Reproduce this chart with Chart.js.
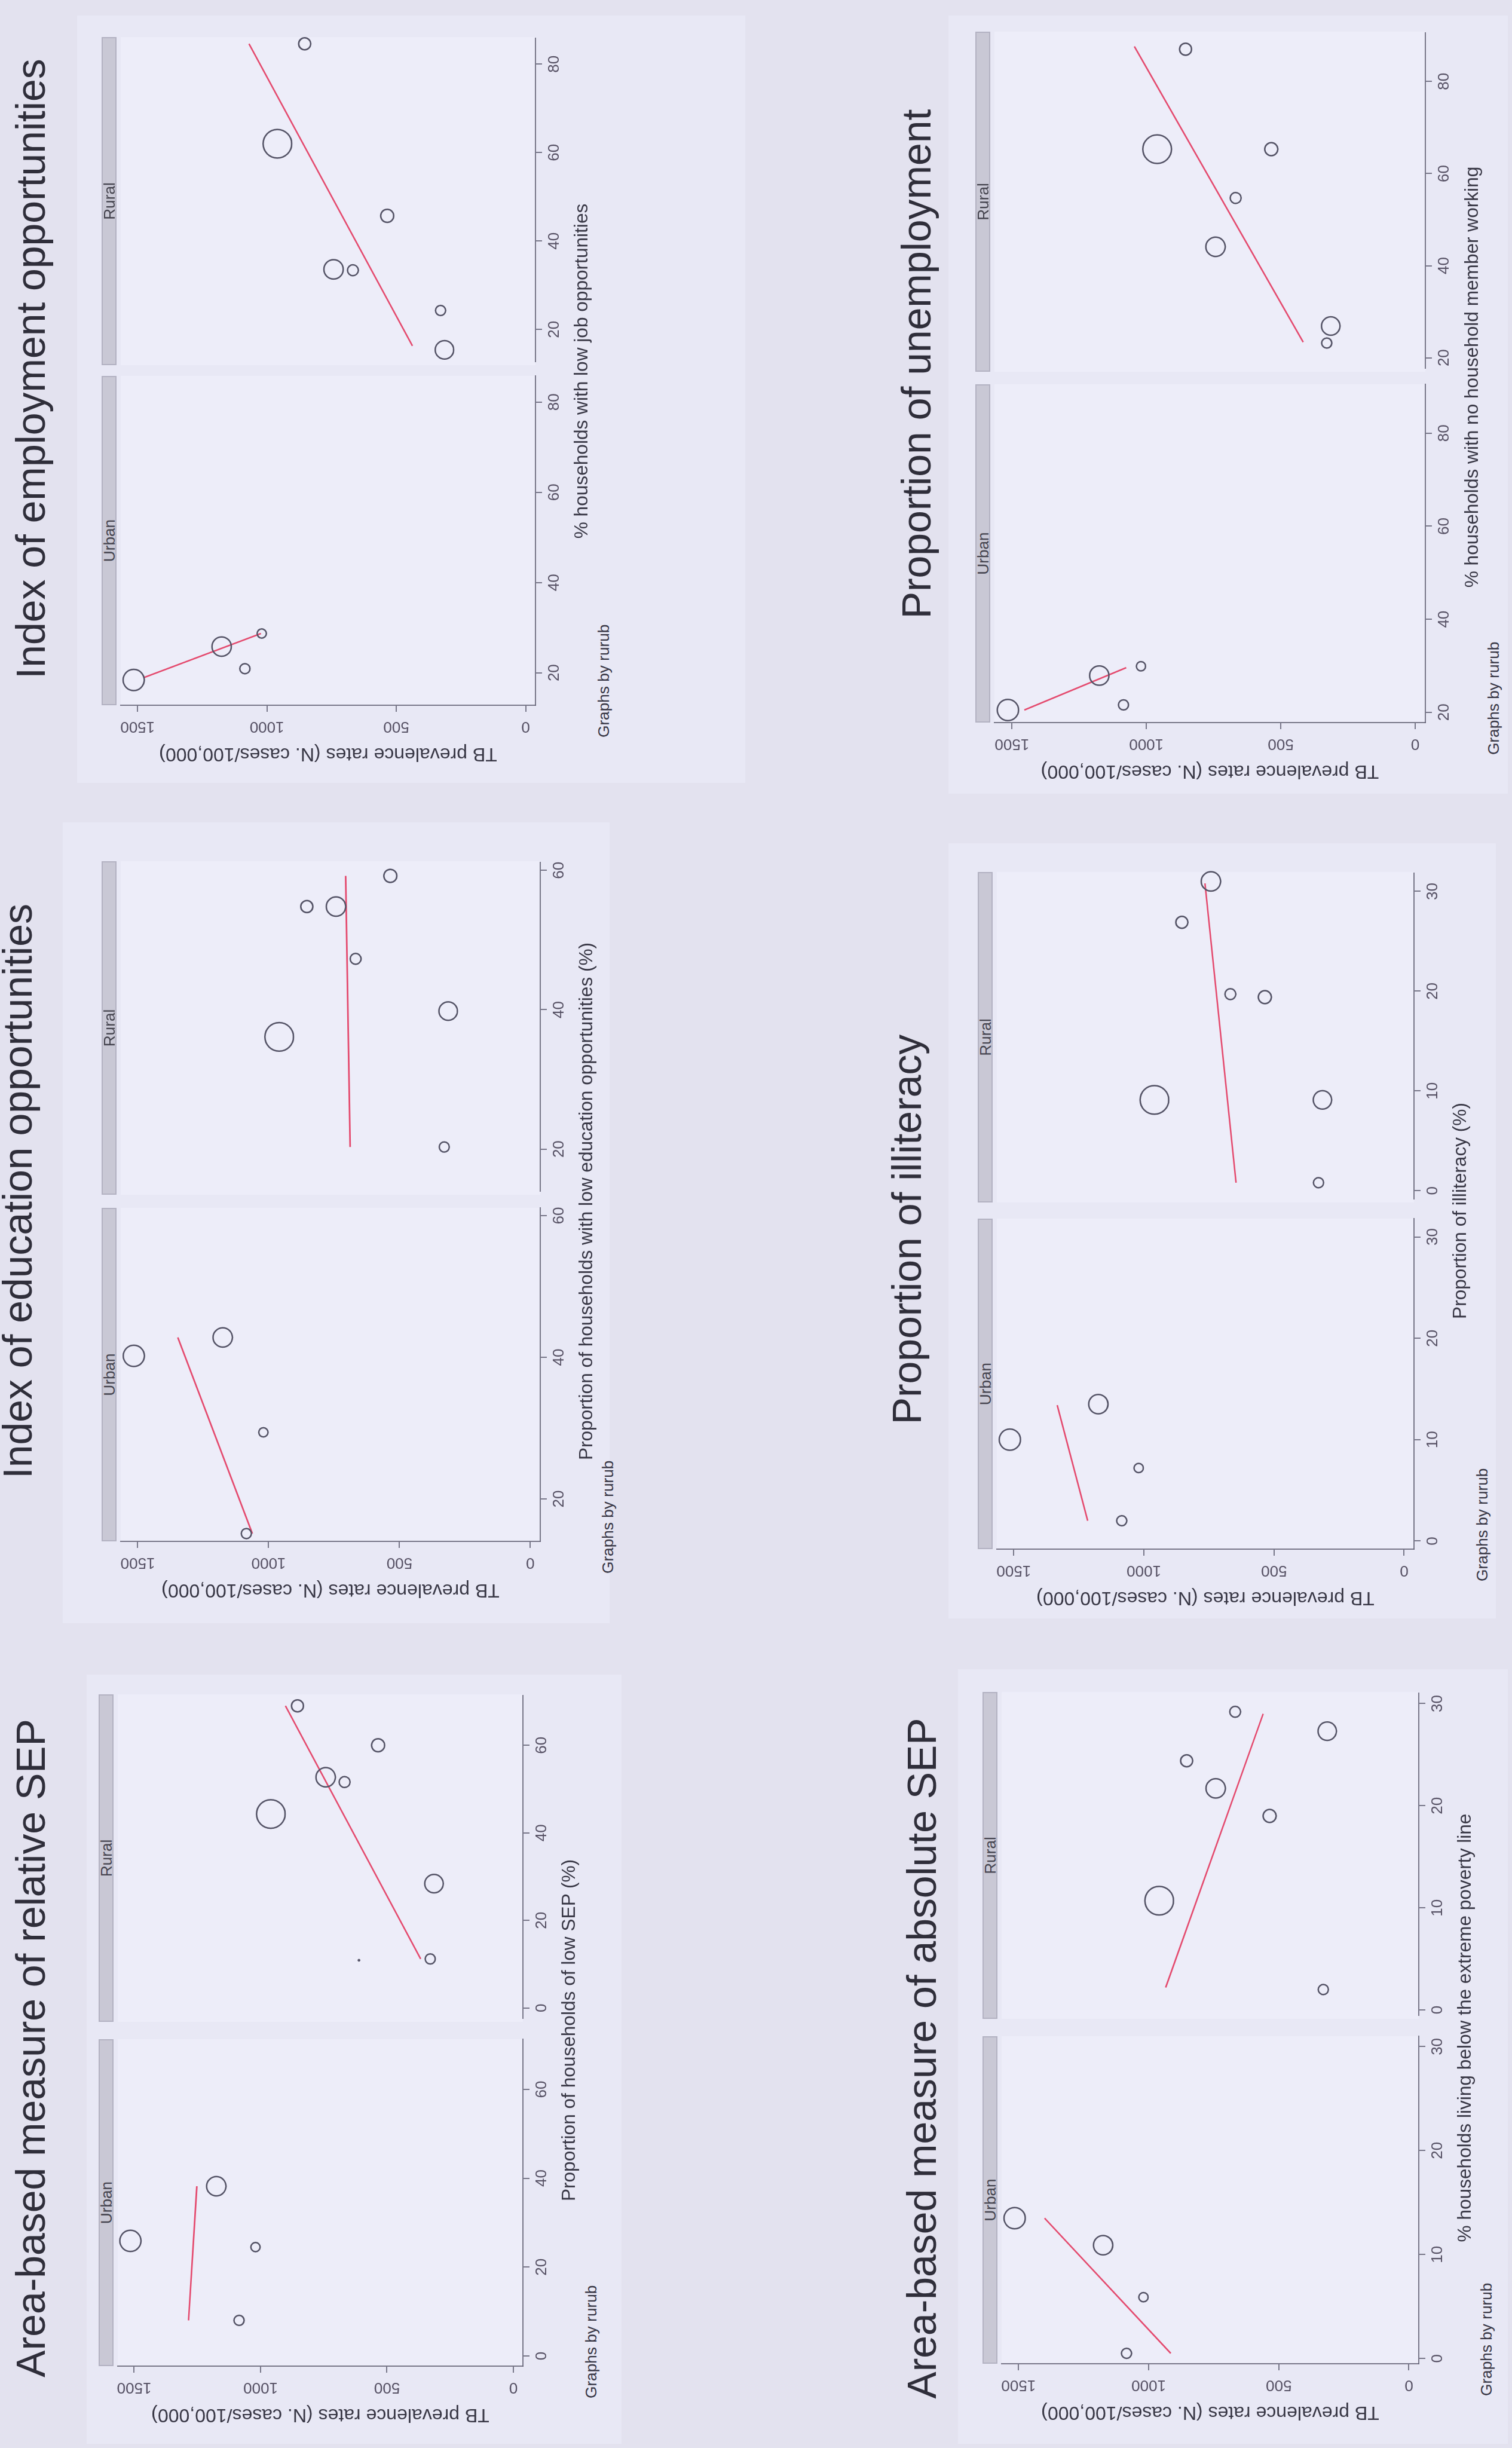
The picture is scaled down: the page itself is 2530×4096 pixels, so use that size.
<!DOCTYPE html>
<html>
<head>
<meta charset="utf-8">
<title>TB prevalence by area-level deprivation indicators</title>
<script src="https://cdn.jsdelivr.net/npm/chart.js@4.4.1/dist/chart.umd.min.js"></script>
<style>
  html, body { margin: 0; padding: 0; background: #e3e2ef; overflow: hidden; }
  body { width: 2530px; height: 4096px; position: relative; }
  /* The slide is laid out in landscape and turned a quarter turn counter-clockwise. */
  #sheet {
    position: absolute; left: 0; top: 0; width: 4096px; height: 2530px;
    transform-origin: 0 0; transform: translate(0, 4096px) rotate(-90deg);
    background: #e3e2ef; overflow: hidden;
  }
  .box { position: absolute; box-sizing: border-box; }
  .txt { position: absolute; white-space: nowrap; line-height: 1;
         font-family: "Liberation Sans", Arial, Helvetica, sans-serif; }
  canvas { position: absolute; }
</style>
</head>
<body>
<div id="sheet"></div>
<script>
// ---------------- data ----------------
const groups = ['Urban', 'Rural'];
const tbTicks = [0, 500, 1000, 1500];
const tbRange = [-38, 1565];

// TB prevalence per area (same areas in every panel)
const urbanTB = [1515, 1175, 1020, 1085];
const ruralTB = [963, 857, 745, 670, 537, 315, 330];
// analytic weights (marker area)
const urbanWeight = [5.3, 4.4, 1.0, 1.2];
const ruralWeight = [9.6, 1.7, 4.4, 1.4, 2.0, 4.0, 1.2];

// Area-based measure of relative SEP
const relTicks = [0, 20, 40, 60];
const relRange = [-2.3, 71.3];
const relUrbanX = [25.9, 38.2, 24.5, 8.0];
const relRuralX = [44.3, 69.0, 52.7, 51.6, 60.0, 28.4, 11.2];
const relExtraX = [10.9];
const relExtraTB = [613];
const relExtraWeight = [0.06];
const relUrbanFitX = [8.0, 38.2];
const relUrbanFitTB = [1285, 1252];
const relRuralFitX = [11.2, 69.0];
const relRuralFitTB = [368, 905];

// Index of education opportunities
const eduTicks = [20, 40, 60];
const eduRange = [14.0, 61.1];
const eduUrbanX = [40.2, 42.8, 29.4, 15.1];
const eduRuralX = [36.1, 54.8, 54.8, 47.3, 59.2, 39.8, 20.3];
const eduUrbanFitX = [15.1, 42.8];
const eduUrbanFitTB = [1062, 1347];
const eduRuralFitX = [20.3, 59.2];
const eduRuralFitTB = [691, 708];

// Index of employment opportunities
const empTicks = [20, 40, 60, 80];
const empRange = [12.8, 85.8];
const empUrbanX = [18.4, 25.8, 28.7, 20.9];
const empRuralX = [62.0, 84.6, 33.6, 33.4, 45.7, 15.4, 24.3];
const empUrbanFitX = [18.9, 28.7];
const empUrbanFitTB = [1477, 1023];
const empRuralFitX = [16.3, 84.6];
const empRuralFitTB = [439, 1073];

// Area-based measure of absolute SEP
const absTicks = [0, 10, 20, 30];
const absRange = [-0.5, 31.0];
const absUrbanX = [13.5, 10.9, 5.9, 0.5];
const absRuralX = [10.7, 24.4, 21.7, 29.2, 19.0, 27.3, 2.0];
const absUrbanFitX = [0.5, 13.5];
const absUrbanFitTB = [915, 1400];
const absRuralFitX = [2.2, 29.0];
const absRuralFitTB = [938, 562];

// Proportion of illiteracy
const illTicks = [0, 10, 20, 30];
const illRange = [-0.8, 31.8];
const illUrbanX = [10.0, 13.5, 7.2, 2.0];
const illRuralX = [9.1, 26.9, 31.0, 19.7, 19.4, 9.1, 0.8];
const illUrbanFitX = [2.0, 13.4];
const illUrbanFitTB = [1216, 1333];
const illRuralFitX = [0.8, 30.8];
const illRuralFitTB = [648, 768];

// Proportion of unemployment
const uneTicks = [20, 40, 60, 80];
const uneRange = [17.8, 90.5];
const uneUrbanX = [20.5, 27.9, 29.9, 21.6];
const uneRuralX = [65.3, 87.0, 44.1, 54.7, 65.3, 26.9, 23.2];
const uneUrbanFitX = [20.5, 29.6];
const uneUrbanFitTB = [1454, 1075];
const uneRuralFitX = [23.4, 87.6];
const uneRuralFitTB = [418, 1048];

const tbTitle = 'TB prevalence rates (N. cases/100,000)';
const byNote = 'Graphs by rurub';

// ---------------- layout ----------------
// Positions are given on the upright page (X across, Y down, 3281 x 5311 units)
// and mapped onto the landscape sheet that is rotated into place.
const PAGE_LONG = 5311;
const K = 4096 / PAGE_LONG;
const lx = Y => (PAGE_LONG - Y) * K;   // sheet x from page Y
const ly = X => X * K;                 // sheet y from page X

const FONT = '"Liberation Sans", Arial, Helvetica, sans-serif';
const COL = {
  region: '#e8e8f5', plot: '#ededf9', strip: '#c9c8d5', stripEdge: '#b3b2c2',
  axis: 'rgba(100,99,118,0.85)', tick: '#575265', text: '#383745',
  marker: '#545366', fit: '#e44a6e'
};

const panels = [
  { title: 'Area-based measure of relative SEP', xTitle: 'Proportion of households of low SEP (%)',
    ticks: relTicks, range: relRange, urbanX: relUrbanX, ruralX: relRuralX,
    urbanFit: [relUrbanFitX, relUrbanFitTB], ruralFit: [relRuralFitX, relRuralFitTB],
    extra: { x: relExtraX, tb: relExtraTB, w: relExtraWeight },
    ax0: 256, ax1: 1135, rural: [3676, 4386], urban: [4424, 5133],
    titleBase: 98, titleMid: 4443, region: [188, 3633, 1349, 5302] },
  { title: 'Index of education opportunities', xTitle: 'Proportion of households with low education opportunities (%)',
    ticks: eduTicks, range: eduRange, urbanX: eduUrbanX, ruralX: eduRuralX,
    urbanFit: [eduUrbanFitX, eduUrbanFitTB], ruralFit: [eduRuralFitX, eduRuralFitTB],
    ax0: 262, ax1: 1172, rural: [1869, 2592], urban: [2621, 3344],
    titleBase: 69, titleMid: 2584, region: [136, 1785, 1323, 3522] },
  { title: 'Index of employment opportunities', xTitle: '% households with low job opportunities',
    ticks: empTicks, range: empRange, urbanX: empUrbanX, ruralX: empRuralX,
    urbanFit: [empUrbanFitX, empUrbanFitTB], ruralFit: [empRuralFitX, empRuralFitTB],
    ax0: 262, ax1: 1162, rural: [80, 792], urban: [815, 1530],
    titleBase: 98, titleMid: 800, region: [167, 34, 1616, 1699] },
  { title: 'Area-based measure of absolute SEP', xTitle: '% households living below the extreme poverty line',
    ticks: absTicks, range: absRange, urbanX: absUrbanX, ruralX: absRuralX,
    urbanFit: [absUrbanFitX, absUrbanFitTB], ruralFit: [absRuralFitX, absRuralFitTB],
    ax0: 2173, ax1: 3078, rural: [3671, 4380], urban: [4418, 5128],
    titleBase: 2031, titleMid: 4465, region: [2079, 3622, 3272, 5302] },
  { title: 'Proportion of illiteracy', xTitle: 'Proportion of illiteracy (%)',
    ticks: illTicks, range: illRange, urbanX: illUrbanX, ruralX: illRuralX,
    urbanFit: [illUrbanFitX, illUrbanFitTB], ruralFit: [illRuralFitX, illRuralFitTB],
    ax0: 2163, ax1: 3068, rural: [1892, 2609], urban: [2644, 3361],
    titleBase: 1999, titleMid: 2667, region: [2058, 1829, 3246, 3511] },
  { title: 'Proportion of unemployment', xTitle: '% households with no household member working',
    ticks: uneTicks, range: uneRange, urbanX: uneUrbanX, ruralX: uneRuralX,
    urbanFit: [uneUrbanFitX, uneUrbanFitTB], ruralFit: [uneRuralFitX, uneRuralFitTB],
    ax0: 2158, ax1: 3093, rural: [69, 806], urban: [834, 1568],
    titleBase: 2020, titleMid: 790, region: [2058, 34, 3272, 1722] }
];

const sheet = document.getElementById('sheet');
const px = v => Math.round(v);

function addBox(l, t, w, h, style) {
  const d = document.createElement('div');
  d.className = 'box';
  Object.assign(d.style, { left: px(l) + 'px', top: px(t) + 'px', width: px(w) + 'px', height: px(h) + 'px' }, style || {});
  sheet.appendChild(d);
  return d;
}
function addText(str, size, color, place, parent) {
  const d = document.createElement('div');
  d.className = 'txt';
  d.textContent = str;
  d.style.fontSize = size + 'px';
  d.style.color = color;
  Object.assign(d.style, place);
  (parent || sheet).appendChild(d);
  return d;
}

// sizes on the sheet
const S = {
  title: 88 * K, axisTitle: 41 * K, tick: px(34 * K), strip: 34 * K, note: 34 * K,
  tickLen: px(14 * K), yAxisW: px(140 * K), xAxisH: px(82 * K),
  markerLine: 2.5, fitLine: 2.6, axisLine: 2
};
const measureCtx = document.createElement('canvas').getContext('2d');
measureCtx.font = S.tick + 'px ' + FONT;
const widestTB = Math.max(...tbTicks.map(v => measureCtx.measureText(String(v)).width));
const yTickPad = 46 * K - S.tickLen - widestTB / 2;
const yTitleSize = px(S.axisTitle);
const yTitlePad = S.yAxisW - 105 * K - yTitleSize / 2;
const radiusOf = w => 10 * Math.sqrt(w) * K;

function subplot(p, group) {
  const isUrban = group === 'Urban';
  const span = isUrban ? p.urban : p.rural;
  const areaL = px(lx(span[1])), areaR = px(lx(span[0]));
  const areaT = px(ly(p.ax0)), areaB = px(ly(p.ax1));
  const yW = isUrban ? S.yAxisW : 0;
  const padL = isUrban ? 0 : 20, padR = 24, padT = 24;
  const cw = yW + padL + (areaR - areaL) + padR;
  const ch = padT + (areaB - areaT) + S.xAxisH;

  // plot region and strip
  addBox(areaL, areaT, areaR - areaL, areaB - areaT, { background: COL.plot });
  const strip = addBox(areaL, areaT - px(42 * K), areaR - areaL, px(33 * K),
    { background: COL.strip, border: '2px solid ' + COL.stripEdge });
  addText(group, S.strip, '#45444f', { left: '50%', top: '50%', transform: 'translate(-50%,-50%)' }, strip);

  const canvas = document.createElement('canvas');
  canvas.width = cw; canvas.height = ch;
  canvas.style.left = (areaL - yW - padL) + 'px';
  canvas.style.top = (areaT - padT) + 'px';
  canvas.style.width = cw + 'px';
  canvas.style.height = ch + 'px';
  sheet.appendChild(canvas);

  const xs = isUrban ? p.urbanX : p.ruralX;
  const tbs = isUrban ? urbanTB : ruralTB;
  const ws = isUrban ? urbanWeight : ruralWeight;
  const fit = isUrban ? p.urbanFit : p.ruralFit;

  const datasets = [{
    type: 'scatter',
    data: xs.map((x, i) => ({ x, y: tbs[i] })),
    pointRadius: ctx => radiusOf(ws[ctx.dataIndex]),
    pointBackgroundColor: 'rgba(0,0,0,0)',
    pointBorderColor: COL.marker,
    pointBorderWidth: S.markerLine,
    clip: false
  }];
  if (!isUrban && p.extra) {
    datasets.push({
      type: 'scatter',
      data: p.extra.x.map((x, i) => ({ x, y: p.extra.tb[i] })),
      pointRadius: ctx => radiusOf(p.extra.w[ctx.dataIndex]),
      pointBackgroundColor: COL.marker,
      pointBorderColor: COL.marker,
      pointBorderWidth: 1,
      clip: false
    });
  }
  datasets.push({
    type: 'line',
    data: fit[0].map((x, i) => ({ x, y: fit[1][i] })),
    borderColor: COL.fit,
    borderWidth: S.fitLine,
    pointRadius: 0,
    fill: false,
    tension: 0
  });

  const axisFont = { family: FONT, size: S.tick, lineHeight: 1 };
  new Chart(canvas, {
    type: 'scatter',
    data: { datasets },
    options: {
      responsive: false, animation: false, events: [], devicePixelRatio: 1,
      layout: { padding: { left: padL, right: padR, top: padT, bottom: 0 } },
      plugins: { legend: { display: false }, tooltip: { enabled: false }, title: { display: false } },
      scales: {
        x: {
          type: 'linear', position: 'bottom', min: p.range[0], max: p.range[1],
          afterBuildTicks: s => { s.ticks = p.ticks.map(v => ({ value: v })); },
          afterFit: s => { s.height = S.xAxisH; },
          grid: { display: true, drawOnChartArea: false, drawTicks: true, tickLength: S.tickLen,
                  color: COL.axis, lineWidth: S.axisLine },
          border: { display: true, color: COL.axis, width: S.axisLine },
          ticks: { autoSkip: false, maxRotation: 0, minRotation: 0, color: COL.tick, font: axisFont,
                   padding: 33 * K + 0.5 - S.tickLen - S.tick / 2 + 8 * K, callback: v => String(v) }
        },
        y: {
          type: 'linear', position: 'left', display: isUrban, min: tbRange[0], max: tbRange[1],
          afterBuildTicks: s => { s.ticks = tbTicks.map(v => ({ value: v })); },
          afterFit: s => { s.width = yW; },
          grid: { display: true, drawOnChartArea: false, drawTicks: true, tickLength: S.tickLen,
                  color: COL.axis, lineWidth: S.axisLine },
          border: { display: true, color: COL.axis, width: S.axisLine },
          ticks: { autoSkip: false, minRotation: 90, maxRotation: 90, crossAlign: 'center',
                   padding: yTickPad, color: COL.tick, font: axisFont, callback: v => String(v) },
          title: { display: true, text: tbTitle, color: COL.text,
                   font: { family: FONT, size: yTitleSize, lineHeight: 1 },
                   padding: { top: yTitlePad, bottom: 0 } }
        }
      }
    }
  });
}

for (const p of panels) {
  // graph region behind each pasted figure
  const r = p.region;
  addBox(lx(r[3]), ly(r[0]), (r[3] - r[1]) * K, (r[2] - r[0]) * K, { background: COL.region });
}

for (const p of panels) {
  subplot(p, groups[0]);
  subplot(p, groups[1]);

  // x-axis title centred under both subplots
  const mid = (lx(p.urban[1]) + lx(p.rural[0])) / 2;
  addText(p.xTitle, S.axisTitle, COL.text, {
    left: px(mid) + 'px', top: px(ly(p.ax1 + 100)) + 'px', transform: 'translate(-50%,-50%)'
  });
  // by-variable note
  addText(byNote, S.note, COL.text, {
    left: px(lx(p.urban[1] + 70)) + 'px', top: px(ly(p.ax1 + 147)) + 'px', transform: 'translateY(-50%)'
  });
  // slide heading for the figure
  addText(p.title, S.title, '#2f2e3a', {
    left: px(lx(p.titleMid)) + 'px', top: px(ly(p.titleBase) - 0.8465 * S.title) + 'px',
    transform: 'translateX(-50%)'
  });
}
</script>
</body>
</html>
